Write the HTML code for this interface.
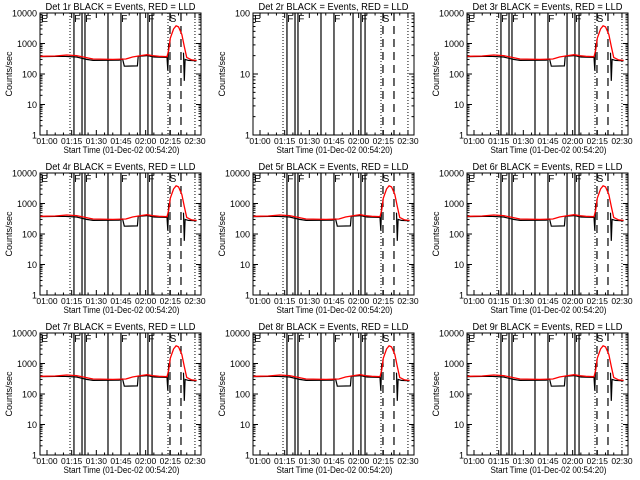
<!DOCTYPE html>
<html><head><meta charset="utf-8"><style>
html,body{margin:0;padding:0;background:#fff;width:640px;height:480px;overflow:hidden}
svg{display:block}
text{font-family:"Liberation Sans",sans-serif;fill:#000}
</style></head><body>
<svg id="chart" width="640" height="480" viewBox="0 0 640 480" xmlns="http://www.w3.org/2000/svg"></svg>
<script>
// ---- data ----
const detectors = ["1r","2r","3r","4r","5r","6r","7r","8r","9r"];
const xTickLabels = ["01:00","01:15","01:30","01:45","02:00","02:15","02:30"];
const xTickMinutes = [60,75,90,105,120,135,150];
// LLD (red) rate: minutes since 00:00 and counts/sec
const redTimes  = [56,65,72,78,82,88,100,108,112,117,121,124,128,133,134,135,137,138.5,140,142,143.5,145,148,151];
const redValues = [380,390,420,400,360,310,300,310,360,400,430,400,380,370,600,1500,3000,3800,3500,2000,800,350,290,280];
// Events (black) rate; null = gap
const blackTimes  = [56,70,78,84,88,104,106,107,115,115.5,121,125,133,133.5,134,134.3,143,143.5,144,146,151];
const blackValues = [370,380,360,300,280,285,310,180,185,380,400,360,350,130,1000,null,500,60,300,280,270];
// vertical markers (minutes)
const solidLines = [76.4,81.3,83.1,97.1,105,116.6,121.4,123.9];
const dottedLines = [74,133.6,150];
const dashedLines = [134.8,141.5];

const svg = document.getElementById('chart');
const NS = 'http://www.w3.org/2000/svg';
function mk(tag, attrs, parent){ const e=document.createElementNS(NS,tag); for(const k in attrs) e.setAttribute(k,attrs[k]); (parent||svg).appendChild(e); return e; }

const colX=[0,213,427], rowY=[0,160,320];
detectors.forEach((det,i)=>{
  const ox=colX[i%3], oy=rowY[Math.floor(i/3)];
  const g=mk('g',{});
  
  
  const L=ox+40, R=ox+201, T=oy+13, B=oy+135;
  const decades = (det==="2r")?2:4;
  const xs=t=>ox+47+(t-60)*1.644;
  const ys=v=>B-(B-T)*Math.log10(v)/decades;
  // title
  const tt=mk('text',{x:(L+R)/2,y:oy+10,'font-size':'10.5','text-anchor':'middle',textLength:150,lengthAdjust:'spacingAndGlyphs'},g);
  tt.textContent='Det '+det+' BLACK = Events, RED = LLD';
  
  
  // frame
  const fr=mk('rect',{x:L,y:T,width:R-L,height:B-T,fill:'none',stroke:'#000','stroke-width':1},g);
  
  
  // y ticks
  for(let d=0;d<=decades;d++){
    const y=ys(Math.pow(10,d));
    mk('line',{x1:L,x2:L+5,y1:y,y2:y,stroke:'#000'},g);
    mk('line',{x1:R,x2:R-5,y1:y,y2:y,stroke:'#000'},g);
    const lb=mk('text',{x:L-3,y:y+3.5,'font-size':'9','text-anchor':'end'},g);
    lb.textContent=String(Math.pow(10,d));
    
    
    if(d<decades) for(let m=2;m<10;m++){
      const ym=ys(m*Math.pow(10,d));
      mk('line',{x1:L,x2:L+2.5,y1:ym,y2:ym,stroke:'#000'},g);
      mk('line',{x1:R,x2:R-2.5,y1:ym,y2:ym,stroke:'#000'},g);
    }
  }
  // x ticks
  for(let t=60;t<=150;t+=5){
    const x=xs(t), len=(t%15===0)?5:2.5;
    mk('line',{x1:x,x2:x,y1:B,y2:B-len,stroke:'#000'},g);
    mk('line',{x1:x,x2:x,y1:T,y2:T+len,stroke:'#000'},g);
  }
  xTickMinutes.forEach((t,k)=>{
    const lb=mk('text',{x:xs(t),y:B+9,'font-size':'8.5','text-anchor':'middle'},g);
    lb.textContent=xTickLabels[k];
    
    
  });
  const xl=mk('text',{x:(L+R)/2+1,y:B+18,'font-size':'9.5','text-anchor':'middle',textLength:116,lengthAdjust:'spacingAndGlyphs'},g);
  xl.textContent='Start Time (01-Dec-02 00:54:20)';
  
  
  const yl=mk('text',{x:0,y:0,'font-size':'9','text-anchor':'middle',transform:`translate(${ox+12},${(T+B)/2}) rotate(-90)`},g);
  yl.textContent='Counts/sec';
  
  
  // vertical lines
  solidLines.forEach(t=>{ const l=mk('line',{x1:xs(t),x2:xs(t),y1:T,y2:B,stroke:'#000','stroke-width':1.2},g);
      });
  dottedLines.forEach(t=>{ const l=mk('line',{x1:xs(t),x2:xs(t),y1:T,y2:B,stroke:'#000','stroke-dasharray':'1,2'},g);
      });
  dashedLines.forEach(t=>{ const l=mk('line',{x1:xs(t),x2:xs(t),y1:T,y2:B,stroke:'#000','stroke-dasharray':'8,5','stroke-width':1.2},g);
      });
  // flag letters
  [[56.5,'E'],[76.6,'F'],[83.3,'F'],[105.2,'F'],[121.6,'F'],[134.6,'S']].forEach(([t,c])=>{
    const f=mk('text',{x:xs(t),y:T+9,'font-size':'10'},g); f.textContent=c;
     
  });
  if(det!=="2r"){
    // black series
    let d='',pen=false;
    blackTimes.forEach((t,k)=>{ const v=blackValues[k]; if(v===null){pen=false;return;}
      d+=(pen?'L':'M')+xs(t).toFixed(1)+','+ys(v).toFixed(1); pen=true; });
    const bl=mk('path',{d,fill:'none',stroke:'#000','stroke-width':1.2},g);
     
    let dr=''; redTimes.forEach((t,k)=>{ dr+=(k?'L':'M')+xs(t).toFixed(1)+','+ys(redValues[k]).toFixed(1); });
    const rl=mk('path',{d:dr,fill:'none',stroke:'#f00','stroke-width':1.3},g);
     
  }
});
</script>
</body></html>
